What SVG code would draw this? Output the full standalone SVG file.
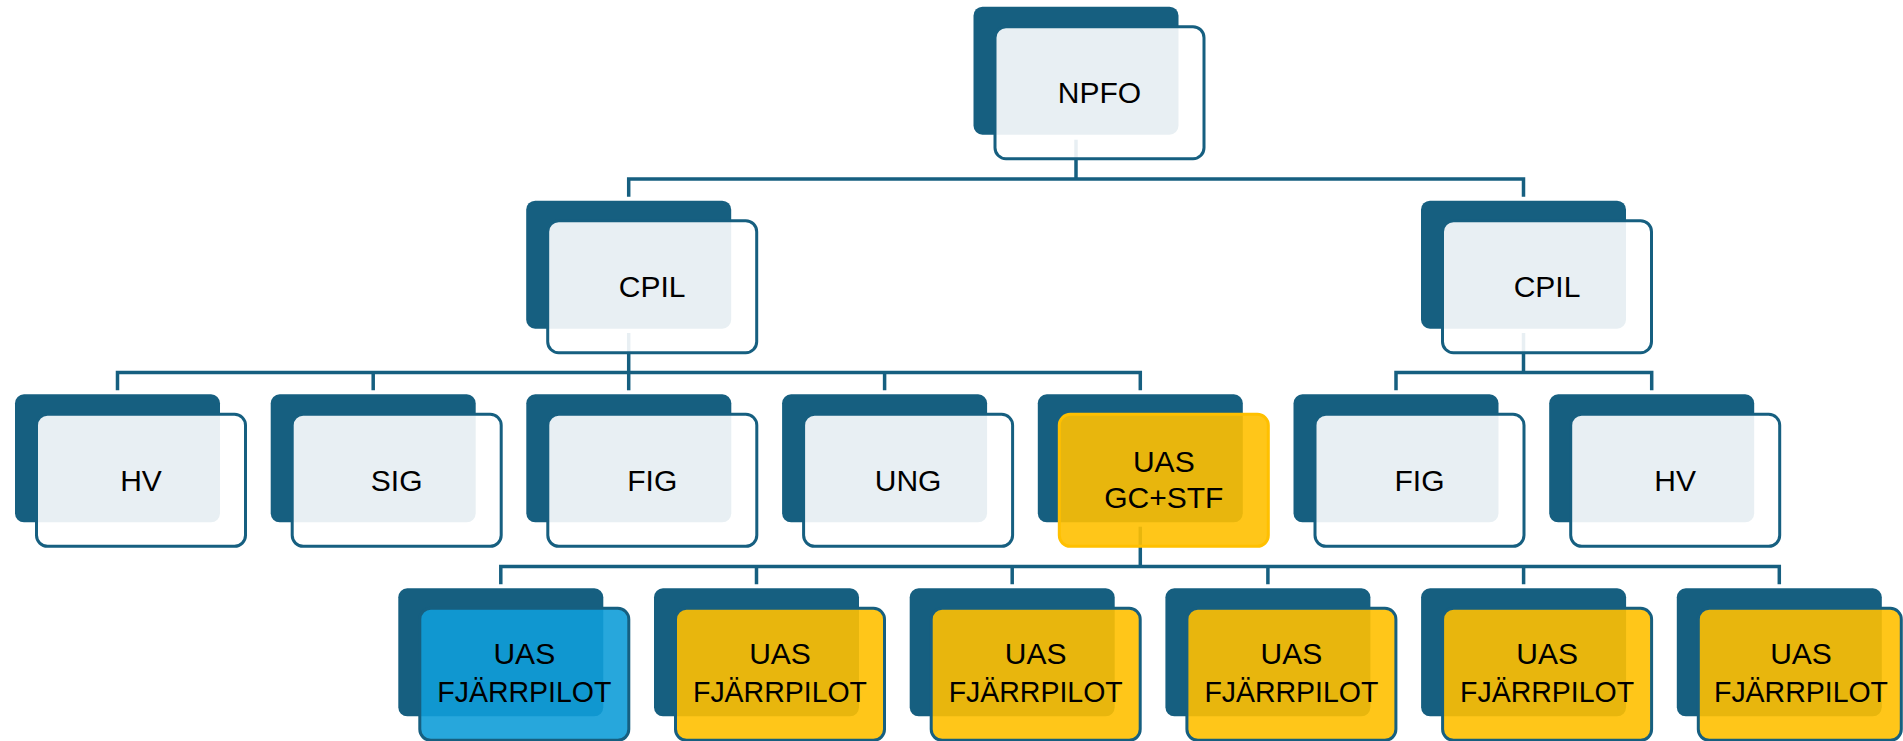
<svg xmlns="http://www.w3.org/2000/svg" width="1903" height="741" viewBox="0 0 1903 741">
<style>
.back{fill:#165f80}
.front{fill:#ffffff;fill-opacity:0.9;stroke:#165f80;stroke-width:3}
.yel{fill:#ffc000;fill-opacity:0.9;stroke:#165f80;stroke-width:3}
.yelh{fill:#ffc000;fill-opacity:0.9;stroke:#ffc000;stroke-width:3}
.blu{fill:#0f9dd8;fill-opacity:0.9;stroke:#165f80;stroke-width:3}
.lbl{font-family:"Liberation Sans",Arial,sans-serif;font-size:30px;fill:#000;text-anchor:middle}
.conn{fill:none;stroke:#165f80;stroke-width:3.5;stroke-linejoin:miter}
</style>
<g id="connectors">
<path class="conn" d="M1076,139.7 V179"/>
<path class="conn" d="M628.7,196.7 V179 H1523.5 V196.7"/>
<path class="conn" d="M628.7,333 V390.3"/>
<path class="conn" d="M117.5,390.3 V372.5 H1140.3 V390.3 M373.2,372.5 V390.3 M884.6,372.5 V390.3"/>
<path class="conn" d="M1523.5,333 V372.5"/>
<path class="conn" d="M1396,390.3 V372.5 H1651.7 V390.3"/>
<path class="conn" d="M1140.3,526.7 V566.5"/>
<path class="conn" d="M500.8,584.3 V566.5 H1779.3 V584.3 M756.5,566.5 V584.3 M1012.2,566.5 V584.3 M1267.9,566.5 V584.3 M1523.6,566.5 V584.3"/>
</g>
<g id="npfo">
<rect class="back" x="973.5" y="6.7" width="205" height="128" rx="9"/>
<rect class="front" x="995" y="26.7" width="209" height="132" rx="11"/>
<text class="lbl" x="1099.5" y="103.3">NPFO</text>
</g>
<g id="cpil-left">
<rect class="back" x="526.2" y="200.7" width="205" height="128" rx="9"/>
<rect class="front" x="547.7" y="220.7" width="209" height="132" rx="11"/>
<text class="lbl" x="652.2" y="297.3">CPIL</text>
</g>
<g id="cpil-right">
<rect class="back" x="1421" y="200.7" width="205" height="128" rx="9"/>
<rect class="front" x="1442.5" y="220.7" width="209" height="132" rx="11"/>
<text class="lbl" x="1547" y="297.3">CPIL</text>
</g>
<g id="hv-left">
<rect class="back" x="15" y="394.3" width="205" height="128" rx="9"/>
<rect class="front" x="36.5" y="414.3" width="209" height="132" rx="11"/>
<text class="lbl" x="141" y="491">HV</text>
</g>
<g id="sig">
<rect class="back" x="270.7" y="394.3" width="205" height="128" rx="9"/>
<rect class="front" x="292.2" y="414.3" width="209" height="132" rx="11"/>
<text class="lbl" x="396.7" y="491">SIG</text>
</g>
<g id="fig-left">
<rect class="back" x="526.3" y="394.3" width="205" height="128" rx="9"/>
<rect class="front" x="547.8" y="414.3" width="209" height="132" rx="11"/>
<text class="lbl" x="652.3" y="491">FIG</text>
</g>
<g id="ung">
<rect class="back" x="782.1" y="394.3" width="205" height="128" rx="9"/>
<rect class="front" x="803.6" y="414.3" width="209" height="132" rx="11"/>
<text class="lbl" x="908.1" y="491">UNG</text>
</g>
<g id="uas-gc-stf">
<rect class="back" x="1037.8" y="394.3" width="205" height="128" rx="9"/>
<rect class="yelh" x="1059.3" y="414.3" width="209" height="132" rx="11"/>
<text class="lbl" x="1163.8" y="471.5">UAS</text>
<text class="lbl" x="1163.8" y="508.3">GC+STF</text>
</g>
<g id="fig-right">
<rect class="back" x="1293.5" y="394.3" width="205" height="128" rx="9"/>
<rect class="front" x="1315" y="414.3" width="209" height="132" rx="11"/>
<text class="lbl" x="1419.5" y="491">FIG</text>
</g>
<g id="hv-right">
<rect class="back" x="1549.2" y="394.3" width="205" height="128" rx="9"/>
<rect class="front" x="1570.7" y="414.3" width="209" height="132" rx="11"/>
<text class="lbl" x="1675.2" y="491">HV</text>
</g>
<g id="pilot-1">
<rect class="back" x="398.3" y="588.3" width="205" height="128" rx="9"/>
<rect class="blu" x="419.8" y="608.3" width="209" height="132" rx="11"/>
<text class="lbl" x="524.3" y="663.5">UAS</text>
<text class="lbl" x="524.3" y="701.8" textLength="174" lengthAdjust="spacingAndGlyphs">FJÄRRPILOT</text>
</g>
<g id="pilot-2">
<rect class="back" x="654" y="588.3" width="205" height="128" rx="9"/>
<rect class="yel" x="675.5" y="608.3" width="209" height="132" rx="11"/>
<text class="lbl" x="780" y="663.5">UAS</text>
<text class="lbl" x="780" y="701.8" textLength="174" lengthAdjust="spacingAndGlyphs">FJÄRRPILOT</text>
</g>
<g id="pilot-3">
<rect class="back" x="909.7" y="588.3" width="205" height="128" rx="9"/>
<rect class="yel" x="931.2" y="608.3" width="209" height="132" rx="11"/>
<text class="lbl" x="1035.7" y="663.5">UAS</text>
<text class="lbl" x="1035.7" y="701.8" textLength="174" lengthAdjust="spacingAndGlyphs">FJÄRRPILOT</text>
</g>
<g id="pilot-4">
<rect class="back" x="1165.4" y="588.3" width="205" height="128" rx="9"/>
<rect class="yel" x="1186.9" y="608.3" width="209" height="132" rx="11"/>
<text class="lbl" x="1291.4" y="663.5">UAS</text>
<text class="lbl" x="1291.4" y="701.8" textLength="174" lengthAdjust="spacingAndGlyphs">FJÄRRPILOT</text>
</g>
<g id="pilot-5">
<rect class="back" x="1421.1" y="588.3" width="205" height="128" rx="9"/>
<rect class="yel" x="1442.6" y="608.3" width="209" height="132" rx="11"/>
<text class="lbl" x="1547.1" y="663.5">UAS</text>
<text class="lbl" x="1547.1" y="701.8" textLength="174" lengthAdjust="spacingAndGlyphs">FJÄRRPILOT</text>
</g>
<g id="pilot-6">
<rect class="back" x="1676.8" y="588.3" width="205" height="128" rx="9"/>
<rect class="yel" x="1698.3" y="608.3" width="203" height="132" rx="11"/>
<text class="lbl" x="1801" y="663.5">UAS</text>
<text class="lbl" x="1801" y="701.8" textLength="174" lengthAdjust="spacingAndGlyphs">FJÄRRPILOT</text>
</g>
</svg>
